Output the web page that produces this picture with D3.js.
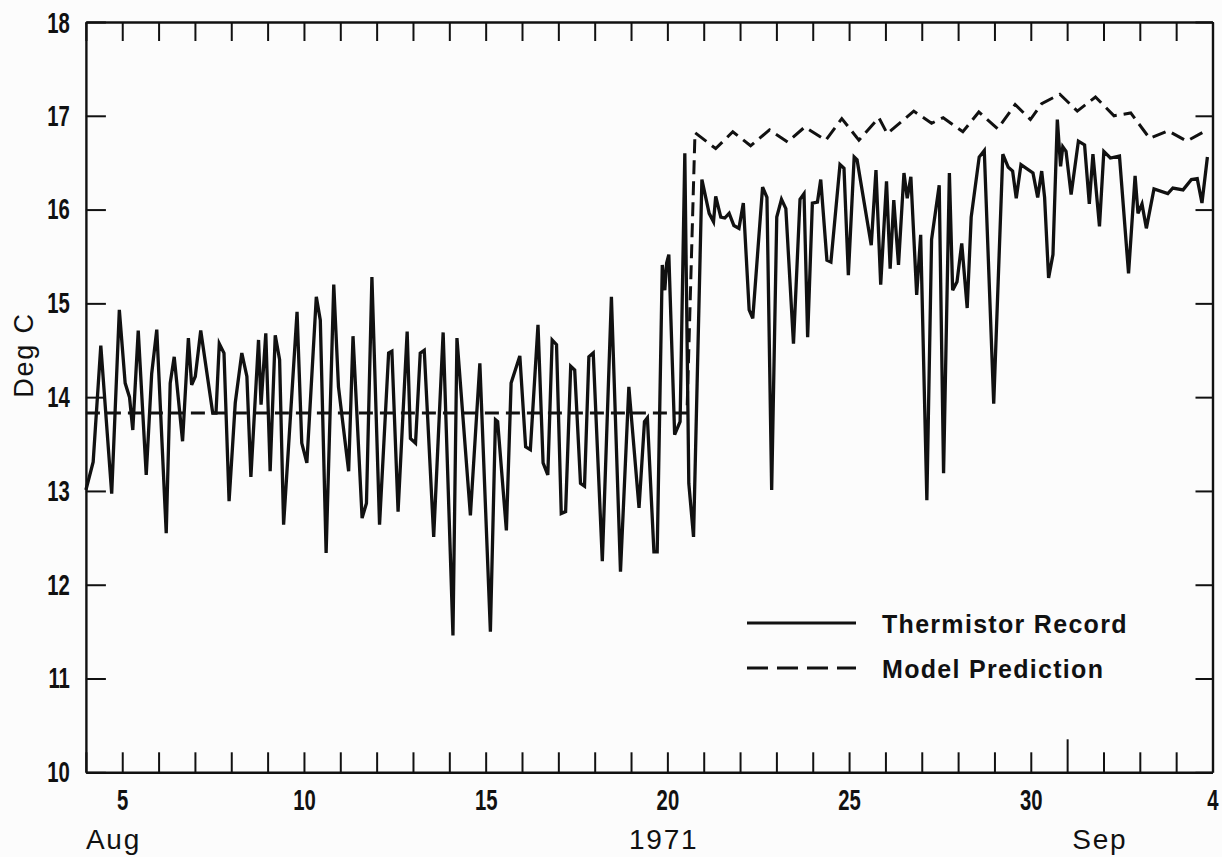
<!DOCTYPE html>
<html>
<head>
<meta charset="utf-8">
<script src="https://cdn.jsdelivr.net/npm/d3@7"></script>
<style>
  html, body { margin: 0; padding: 0; background: #fcfcfc; }
  svg { display: block; }
  .digits { font-family: "Liberation Sans", Arial, sans-serif; font-weight: bold; }
  .lettering { font-family: "Liberation Sans", Arial, sans-serif; letter-spacing: 1.8px; }
  .legend-text { font-family: "Liberation Sans", Arial, sans-serif; font-weight: bold; letter-spacing: 1.3px; }
</style>
</head>
<body>
<div id="chart"></div>
<script>
/* global d3 */

// day of Aug 1971 (32+ = Sep), temperature in deg C
const thermistor = [
  [4.00, 13.01], [4.20, 13.31], [4.41, 14.55], [4.71, 12.97], [4.92, 14.93], [5.08, 14.15],
  [5.20, 14.00], [5.29, 13.65], [5.44, 14.71], [5.66, 13.17], [5.81, 14.25], [5.95, 14.72],
  [6.21, 12.55], [6.32, 14.15], [6.43, 14.43], [6.66, 13.53], [6.82, 14.63], [6.91, 14.13],
  [7.01, 14.22], [7.16, 14.71], [7.49, 13.83], [7.58, 13.83], [7.67, 14.57], [7.80, 14.47],
  [7.94, 12.89], [8.11, 13.94], [8.29, 14.47], [8.43, 14.22], [8.54, 13.15], [8.75, 14.61],
  [8.82, 13.92], [8.95, 14.68], [9.07, 13.21], [9.21, 14.66], [9.33, 14.40], [9.44, 12.64],
  [9.81, 14.91], [9.94, 13.51], [10.08, 13.30], [10.34, 15.07], [10.45, 14.82], [10.61, 12.34],
  [10.82, 15.20], [10.95, 14.11], [11.23, 13.21], [11.35, 14.65], [11.60, 12.71], [11.72, 12.87],
  [11.87, 15.28], [12.08, 12.64], [12.33, 14.47], [12.42, 14.49], [12.59, 12.78], [12.84, 14.70],
  [12.93, 13.56], [13.07, 13.51], [13.20, 14.47], [13.31, 14.50], [13.57, 12.51], [13.83, 14.69],
  [14.10, 11.46], [14.21, 14.63], [14.58, 12.74], [14.84, 14.36], [15.13, 11.50], [15.27, 13.76],
  [15.33, 13.74], [15.57, 12.58], [15.70, 14.15], [15.94, 14.44], [16.10, 13.47], [16.23, 13.44],
  [16.44, 14.77], [16.58, 13.30], [16.71, 13.17], [16.83, 14.61], [16.95, 14.56], [17.08, 12.76],
  [17.20, 12.78], [17.34, 14.33], [17.45, 14.29], [17.61, 13.08], [17.72, 13.05], [17.84, 14.43],
  [17.96, 14.47], [18.21, 12.25], [18.46, 15.07], [18.71, 12.14], [18.94, 14.11], [19.22, 12.82],
  [19.37, 13.74], [19.45, 13.78], [19.63, 12.35], [19.72, 12.35], [19.86, 15.41], [19.93, 15.14],
  [19.98, 15.43], [20.04, 15.52], [20.20, 13.60], [20.35, 13.74], [20.48, 16.60], [20.59, 13.08],
  [20.72, 12.51], [20.95, 16.32], [21.15, 15.96], [21.27, 15.87], [21.33, 16.14], [21.47, 15.92],
  [21.58, 15.91], [21.70, 15.96], [21.83, 15.83], [21.97, 15.80], [22.09, 16.07], [22.25, 14.93],
  [22.35, 14.84], [22.62, 16.24], [22.74, 16.13], [22.87, 13.01], [23.01, 15.92], [23.14, 16.11],
  [23.26, 16.01], [23.47, 14.57], [23.65, 16.11], [23.76, 16.17], [23.86, 14.64], [23.99, 16.07],
  [24.13, 16.08], [24.22, 16.32], [24.39, 15.46], [24.50, 15.44], [24.75, 16.48], [24.86, 16.44],
  [24.98, 15.30], [25.14, 16.56], [25.22, 16.53], [25.61, 15.62], [25.74, 16.42], [25.87, 15.20],
  [26.03, 16.30], [26.13, 15.37], [26.23, 16.10], [26.36, 15.41], [26.51, 16.39], [26.60, 16.12],
  [26.70, 16.35], [26.86, 15.09], [26.97, 15.73], [27.14, 12.90], [27.27, 15.68], [27.48, 16.26],
  [27.60, 13.19], [27.76, 16.39], [27.85, 15.14], [27.97, 15.23], [28.10, 15.64], [28.25, 14.95],
  [28.36, 15.92], [28.58, 16.56], [28.72, 16.63], [28.98, 13.93], [29.23, 16.59], [29.38, 16.45],
  [29.50, 16.41], [29.60, 16.12], [29.73, 16.48], [30.06, 16.39], [30.19, 16.13], [30.30, 16.41],
  [30.38, 16.13], [30.49, 15.27], [30.61, 15.52], [30.73, 16.96], [30.82, 16.46], [30.88, 16.67],
  [30.97, 16.62], [31.11, 16.16], [31.31, 16.73], [31.48, 16.69], [31.61, 16.06], [31.71, 16.59],
  [31.89, 15.82], [32.01, 16.62], [32.19, 16.55], [32.44, 16.57], [32.69, 15.32], [32.87, 16.36],
  [32.95, 15.96], [33.06, 16.06], [33.18, 15.80], [33.39, 16.22], [33.77, 16.17], [33.91, 16.23],
  [34.19, 16.21], [34.42, 16.32], [34.58, 16.33], [34.71, 16.07], [34.86, 16.56]
]

const model = [
  [4.00, 13.83], [20.54, 13.83], [20.76, 16.82], [21.33, 16.65], [21.80, 16.83], [22.29, 16.68],
  [22.81, 16.85], [23.31, 16.72], [23.78, 16.88], [24.36, 16.74], [24.80, 16.97], [25.27, 16.74],
  [25.82, 16.98], [26.05, 16.81], [26.78, 17.05], [27.27, 16.92], [27.59, 16.98], [28.13, 16.83],
  [28.57, 17.04], [29.09, 16.86], [29.57, 17.12], [29.99, 16.96], [30.30, 17.13], [30.80, 17.23],
  [31.28, 17.05], [31.78, 17.20], [32.29, 17.00], [32.75, 17.03], [33.27, 16.76], [33.78, 16.84],
  [34.29, 16.73], [34.72, 16.82]
]

const dayTicks = d3.range(4, 36)
const labelledDays = [5, 10, 15, 20, 25, 30, 35]
const tempTicks = d3.range(10, 19)
const monthLabels = ['Aug', '1971', 'Sep']
const legendNames = ['Thermistor Record', 'Model Prediction']

const width = 1222
const height = 857
const margin = {top: 22, right: 9.5, bottom: 84.7, left: 85.9}
const w = width - margin.left - margin.right
const h = height - margin.top - margin.bottom
const squeeze = 0.7

const x = d3.scaleLinear().domain([4, 35]).range([0, w])
const y = d3.scaleLinear().domain([10, 18]).range([h, 0])

const svg = d3.select('#chart')
  .append('svg')
  .attr('width', width)
  .attr('height', height)

const g = svg.append('g')
  .attr('transform', `translate(${margin.left},${margin.top})`)

const dayLabel = d => labelledDays.includes(d) ? (d > 31 ? d - 31 : d) : ''

// frame and ticks
const axisB = g.append('g')
  .attr('transform', `translate(0,${h})`)
  .call(d3.axisBottom(x).tickValues(dayTicks).tickSize(-20).tickSizeOuter(0)
    .tickPadding(17).tickFormat(dayLabel))
axisB.selectAll('.tick line').filter(d => d === 31).attr('y2', -33)

const axisT = g.append('g')
  .call(d3.axisTop(x).tickValues(dayTicks).tickSize(-19).tickSizeOuter(0).tickFormat(''))

const axisL = g.append('g')
  .call(d3.axisLeft(y).tickValues(tempTicks).tickSize(-20).tickSizeOuter(0).tickPadding(16))

const axisR = g.append('g')
  .attr('transform', `translate(${w},0)`)
  .call(d3.axisRight(y).tickValues(tempTicks).tickSize(-17).tickSizeOuter(0).tickFormat(''))

;[axisB, axisT, axisL, axisR].forEach(a => {
  a.select('.domain').attr('stroke', '#111').attr('stroke-width', 2.4)
  a.selectAll('.tick line').attr('stroke', '#111').attr('stroke-width', 2)
  a.selectAll('.tick text')
    .attr('class', 'digits')
    .attr('fill', '#111')
    .attr('transform', `scale(${squeeze},1)`)
    .style('font-size', '29px')
})
axisL.selectAll('.tick text').attr('x', -16 / squeeze)
axisL.selectAll('.tick text').filter(d => d === 18).attr('dy', '0.36em')

const line = d3.line()
  .x(d => x(d[0]))
  .y(d => y(d[1]))

g.append('path')
  .datum(model)
  .attr('d', line)
  .attr('fill', 'none')
  .attr('stroke', '#111')
  .attr('stroke-width', 3)
  .attr('stroke-dasharray', '14,7')

g.append('path')
  .datum(thermistor)
  .attr('d', line)
  .attr('fill', 'none')
  .attr('stroke', '#111')
  .attr('stroke-width', 3.3)
  .attr('stroke-linejoin', 'miter')

// axis titles
svg.append('text')
  .attr('class', 'lettering')
  .attr('transform', 'translate(33,355) rotate(-90)')
  .attr('text-anchor', 'middle')
  .style('font-size', '27px')
  .attr('fill', '#111')
  .text('Deg C')

svg.selectAll('.month')
  .data(monthLabels)
  .enter()
  .append('text')
  .attr('class', 'lettering')
  .attr('x', (d, i) => margin.left + [x(4), x(19.9), x(31.9)][i])
  .attr('y', 849)
  .attr('text-anchor', (d, i) => i === 0 ? 'start' : 'middle')
  .style('font-size', '28px')
  .attr('fill', '#111')
  .text(d => d)

// legend
const legend = svg.append('g')
  .attr('transform', 'translate(747,623)')

legend.selectAll('line')
  .data(legendNames)
  .enter()
  .append('line')
  .attr('x1', 0)
  .attr('x2', 109)
  .attr('y1', (d, i) => i * 45)
  .attr('y2', (d, i) => i * 45)
  .attr('stroke', '#111')
  .attr('stroke-width', 3.2)
  .attr('stroke-dasharray', (d, i) => i === 1 ? '21,9' : null)

legend.selectAll('text')
  .data(legendNames)
  .enter()
  .append('text')
  .attr('class', 'legend-text')
  .attr('x', 135)
  .attr('y', (d, i) => i * 45 + 9.5)
  .style('font-size', '25px')
  .attr('fill', '#111')
  .text(d => d)
</script>
</body>
</html>
